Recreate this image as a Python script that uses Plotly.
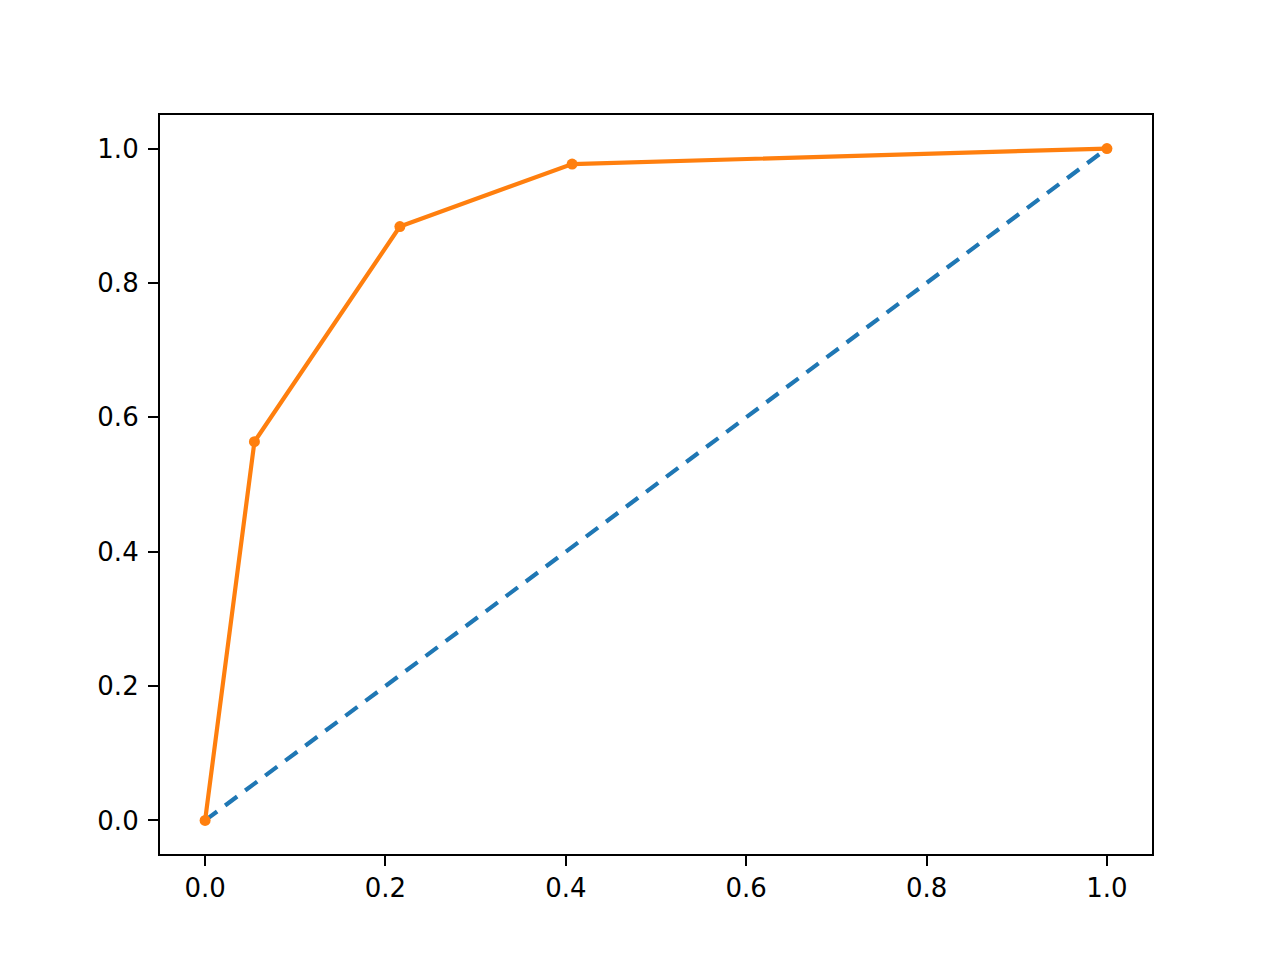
import plotly.graph_objects as go

# no-skill reference line
ns_fpr = [0.0, 1.0]
ns_tpr = [0.0, 1.0]

# model ROC points
lr_fpr = [0.0, 0.0547, 0.216, 0.407, 1.0]
lr_tpr = [0.0, 0.5637, 0.8839, 0.977, 1.0]

tick_vals = [0.0, 0.2, 0.4, 0.6, 0.8, 1.0]
tick_text = ["0.0", "0.2", "0.4", "0.6", "0.8", "1.0"]

fig = go.Figure()
fig.add_trace(go.Scatter(x=ns_fpr, y=ns_tpr, mode="lines",
                         line=dict(color="#1f77b4", width=4.2, dash="15px,10px"),
                         showlegend=False))
fig.add_trace(go.Scatter(x=lr_fpr, y=lr_tpr, mode="lines+markers",
                         line=dict(color="#ff7f0e", width=4.2),
                         marker=dict(color="#ff7f0e", size=11),
                         showlegend=False))

axis = dict(
    showgrid=False, zeroline=False,
    showline=True, linecolor="black", linewidth=2.2, mirror=True,
    ticks="outside", ticklen=10, tickwidth=2.2, tickcolor="black",
    tickvals=tick_vals, ticktext=tick_text,
    range=[-0.05, 1.05],
    tickfont=dict(family="DejaVu Sans", size=26, color="black"),
)
fig.update_xaxes(axis)
fig.update_yaxes(axis)
fig.update_yaxes(ticklabelstandoff=4)
fig.update_xaxes(ticklabelstandoff=0)
fig.update_layout(
    width=1280, height=960,
    margin=dict(l=152, r=136, t=107, b=114),
    plot_bgcolor="white", paper_bgcolor="white",
)

fig.write_html("out.html")
